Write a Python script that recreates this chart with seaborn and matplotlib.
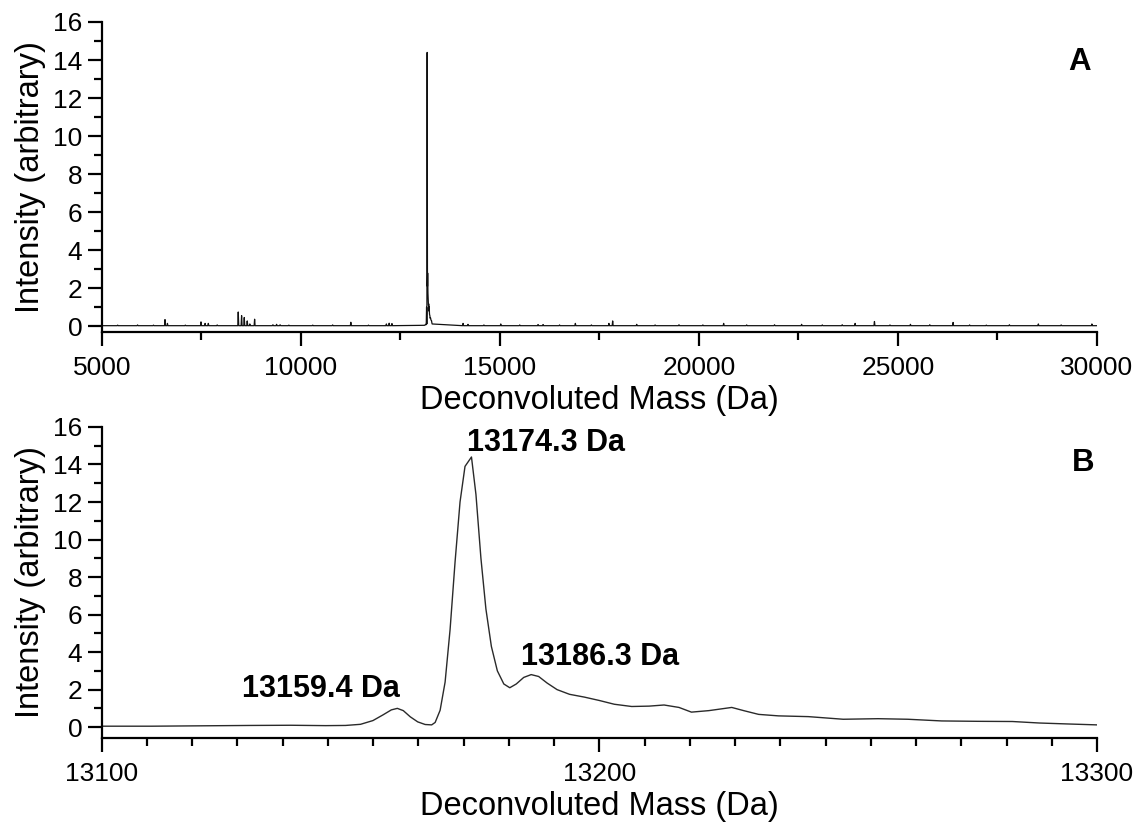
import numpy as np
import pandas as pd
import matplotlib
matplotlib.use("Agg")
import matplotlib.pyplot as plt
from matplotlib.ticker import MultipleLocator, AutoMinorLocator
import seaborn as sns

# ---------------------------------------------------------------------------
# Zoomed spectrum around the main species (panel B)
zoom_mass = [13100, 13110, 13120, 13130, 13138, 13145, 13149, 13152, 13154.5,
             13156.5, 13158.2, 13159.4, 13160.6, 13162.0, 13163.5, 13165.0,
             13166.3, 13167.0, 13168.0, 13169.0, 13170.0, 13171.0, 13172.0,
             13173.0, 13174.3, 13175.2, 13176.2, 13177.2, 13178.3, 13179.5,
             13180.8, 13182.0, 13183.3, 13184.8, 13186.3, 13187.8, 13189.5,
             13191.5, 13194.0, 13197.0, 13200.0, 13203.0, 13206.5, 13210.0,
             13213.0, 13216.0, 13218.5, 13222.0, 13226.6, 13229.0, 13232.0,
             13236.0, 13242.0, 13245.0, 13249.0, 13256.0, 13262.0, 13268.8,
             13276.0, 13283.0, 13288.4, 13294.0, 13300.0]
zoom_intensity = [0.05, 0.05, 0.07, 0.09, 0.10, 0.08, 0.09, 0.15, 0.35,
                  0.65, 0.92, 1.00, 0.88, 0.55, 0.28, 0.14,
                  0.12, 0.25, 0.90, 2.40, 5.20, 8.80, 12.0,
                  13.9, 14.4, 12.4, 9.0, 6.3, 4.3, 3.0,
                  2.3, 2.1, 2.3, 2.65, 2.8, 2.7, 2.35,
                  2.0, 1.75, 1.60, 1.42, 1.22, 1.10, 1.12,
                  1.18, 1.05, 0.80, 0.88, 1.05, 0.88, 0.68,
                  0.60, 0.56, 0.50, 0.42, 0.45, 0.42, 0.33,
                  0.31, 0.30, 0.22, 0.17, 0.12]

# Minor peaks across the full deconvoluted range (panel A)
minor_mass = [5400, 5900, 6300, 6589, 6650, 7100, 7493, 7596, 7677, 7900,
              8429, 8513, 8580, 8655, 8720, 8840, 9300, 9392, 9480, 9700,
              10300, 10800, 11257, 11700, 12150, 12220, 12290, 14076, 14200,
              14600, 15023, 15500, 15960, 16086, 16500, 16897, 17300, 17740,
              17834, 18438, 18900, 19500, 20100, 20622, 21200, 21900, 22580,
              23100, 23600, 23924, 24410, 24800, 25314, 25800, 26385, 26800,
              27220, 27800, 28527, 29100, 29872]
minor_intensity = [0.06, 0.07, 0.06, 0.35, 0.15, 0.06, 0.23, 0.15, 0.15, 0.07,
                   0.75, 0.56, 0.46, 0.28, 0.12, 0.37, 0.08, 0.10, 0.08, 0.06,
                   0.06, 0.07, 0.21, 0.06, 0.12, 0.16, 0.14, 0.15, 0.10,
                   0.07, 0.12, 0.07, 0.09, 0.09, 0.07, 0.15, 0.07, 0.15,
                   0.28, 0.10, 0.07, 0.08, 0.07, 0.15, 0.07, 0.08, 0.10,
                   0.07, 0.08, 0.15, 0.25, 0.07, 0.10, 0.08, 0.20, 0.07,
                   0.06, 0.08, 0.12, 0.07, 0.12]
baseline_level = 0.03

peak_labels = ["13159.4 Da", "13174.3 Da", "13186.3 Da"]
peak_masses = [13159.4, 13174.3, 13186.3]

# ---------------------------------------------------------------------------
# Assemble the full-range trace: a flat baseline with narrow sticks for the
# minor species, plus the zoomed profile spliced in around 13.1-13.3 kDa.
half_width = 12.0
full_x, full_y = [5000.0], [baseline_level]
for m, h in zip(minor_mass, minor_intensity):
    if m < 13100:
        full_x += [m - half_width, m, m + half_width]
        full_y += [baseline_level, h, baseline_level]
full_x += list(zoom_mass)
full_y += list(zoom_intensity)
for m, h in zip(minor_mass, minor_intensity):
    if m > 13300:
        full_x += [m - half_width, m, m + half_width]
        full_y += [baseline_level, h, baseline_level]
full_x.append(30000.0)
full_y.append(baseline_level)

full_df = pd.DataFrame({"mass": full_x, "intensity": full_y})
zoom_df = pd.DataFrame({"mass": zoom_mass, "intensity": zoom_intensity})

# ---------------------------------------------------------------------------
sns.set_style("ticks")
plt.rcParams["font.family"] = ["Liberation Sans", "DejaVu Sans"]
for key in ("text.color", "axes.labelcolor", "xtick.color", "ytick.color",
            "axes.edgecolor"):
    plt.rcParams[key] = "black"

fig = plt.figure(figsize=(11.47, 8.27), dpi=100)
ax_a = fig.add_axes([0.0887, 0.5986, 0.8677, 0.3748])
ax_b = fig.add_axes([0.0887, 0.1076, 0.8677, 0.3761])

sns.lineplot(data=full_df, x="mass", y="intensity", ax=ax_a, color="#111111",
             linewidth=0.9, estimator=None, sort=False)
sns.lineplot(data=zoom_df, x="mass", y="intensity", ax=ax_b, color="#2a2a2a",
             linewidth=1.0, estimator=None, sort=False)

label_kw = dict(fontsize=23.5)
tick_fs = 19

for ax in (ax_a, ax_b):
    sns.despine(ax=ax)
    for side in ("left", "bottom"):
        ax.spines[side].set_linewidth(1.6)
        ax.spines[side].set_color("black")
    ax.yaxis.set_major_locator(MultipleLocator(2))
    ax.yaxis.set_minor_locator(MultipleLocator(1))
    ax.tick_params(axis="both", which="major", direction="out", length=10,
                   width=1.6, labelsize=tick_fs, color="black",
                   labelcolor="black", pad=4)
    ax.tick_params(axis="x", which="major", pad=7.5)
    ax.tick_params(axis="both", which="minor", direction="out", length=5.5,
                   width=1.6, color="black")
    ax.set_ylabel("Intensity (arbitrary)", labelpad=5, **label_kw)
    ax.set_xlabel("Deconvoluted Mass (Da)", labelpad=3.5, **label_kw)
    ax.grid(False)

ax_a.set_xlim(5000, 30000)
ax_a.set_ylim(-0.3, 16)
ax_a.xaxis.set_major_locator(MultipleLocator(5000))
ax_a.xaxis.set_minor_locator(AutoMinorLocator(2))

ax_b.set_xlim(13100, 13300)
ax_b.set_ylim(-0.58, 16)
ax_b.xaxis.set_major_locator(MultipleLocator(100))
ax_b.xaxis.set_minor_locator(AutoMinorLocator(11))

# Panel letters
ax_a.text(0.982, 0.871, "A", transform=ax_a.transAxes, ha="center",
          va="center", fontsize=22.5, fontweight="bold")
ax_b.text(0.986, 0.884, "B", transform=ax_b.transAxes, ha="center",
          va="center", fontsize=22.5, fontweight="bold")

# Peak annotations
peak_text_pos = {
    "13159.4 Da": (13144.1, 2.03, "center"),
    "13174.3 Da": (13173.5, 15.15, "left"),
    "13186.3 Da": (13200.2, 3.73, "center"),
}
for lbl, m in zip(peak_labels, peak_masses):
    tx, ty, ha = peak_text_pos[lbl]
    ax_b.text(tx, ty, lbl, ha=ha, va="center", fontsize=22,
              fontweight="bold")

fig.savefig("out.png", dpi=100, facecolor="white")
